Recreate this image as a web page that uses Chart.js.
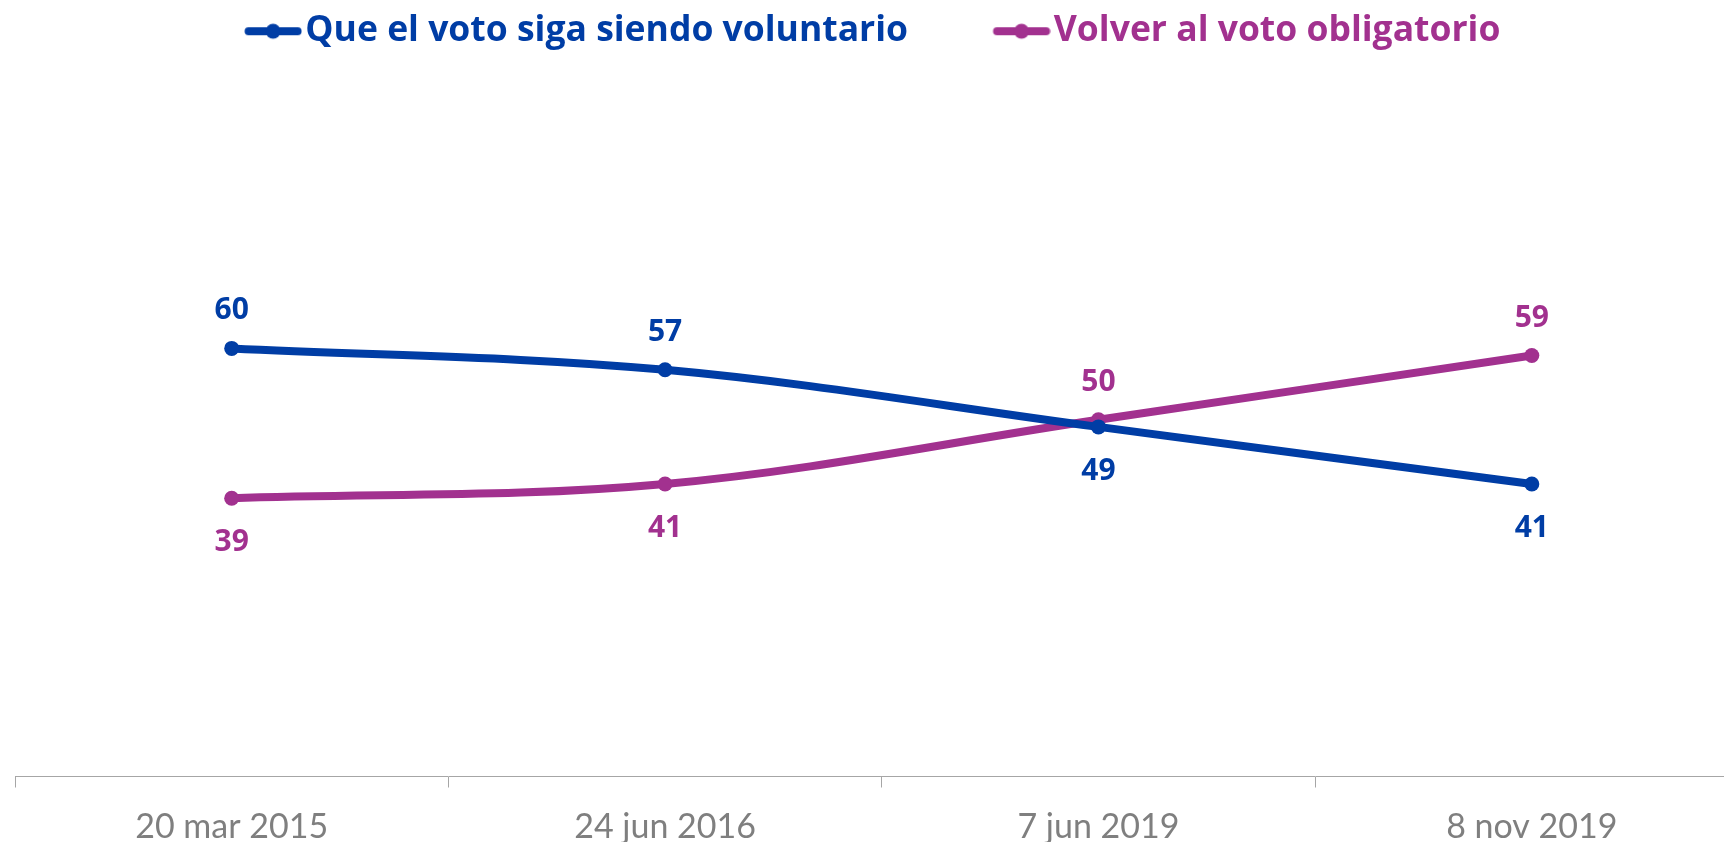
<!DOCTYPE html>
<html>
<head>
<meta charset="utf-8">
<script src="https://cdn.jsdelivr.net/npm/chart.js@4.4.1/dist/chart.umd.min.js"></script>
<style>
  html, body { margin: 0; padding: 0; background: #ffffff; overflow: hidden; }
  #wrap { position: relative; width: 1724px; height: 842px; overflow: hidden; }
  #c { position: absolute; left: -88px; top: 0; }
</style>
</head>
<body>
<div id="wrap"><canvas id="c" width="1844" height="844"></canvas></div>
<script>
// ---- data ----
const categories = ["20 mar 2015", "24 jun 2016", "7 jun 2019", "8 nov 2019"];
const seriesNames = ["Que el voto siga siendo voluntario", "Volver al voto obligatorio"];
const voluntario = [60, 57, 49, 41];
const obligatorio = [39, 41, 50, 59];

// ---- styles ----
const BLUE = "#003DA5";
const PURPLE = "#A2318F";
const LEG_FONT = "'Open Sans', Lato, sans-serif";
const FONT = "Lato, 'Open Sans', sans-serif";
const LEG_SIZE = 35.5;
const PSW = 120;

function legendMarker(color) {
  const W = PSW + LEG_SIZE - 6, H = 18;
  const c = document.createElement("canvas");
  c.width = W; c.height = H;
  const g = c.getContext("2d");
  const x0 = W - 58, x1 = W - 1;
  g.strokeStyle = color; g.lineWidth = 8; g.lineCap = "round";
  g.beginPath(); g.moveTo(x0 + 4, H / 2); g.lineTo(x1 - 4, H / 2); g.stroke();
  g.fillStyle = color;
  g.beginPath(); g.arc((x0 + x1) / 2, H / 2, 7.5, 0, Math.PI * 2); g.fill();
  return c;
}

const dataLabels = {
  id: "dataLabels",
  afterDatasetsDraw(chart) {
    const ctx = chart.ctx;
    const sets = chart.data.datasets;
    ctx.save();
    ctx.font = "bold 30px " + LEG_FONT;
    ctx.textAlign = "center";
    ctx.textBaseline = "alphabetic";
    sets.forEach((ds, di) => {
      const meta = chart.getDatasetMeta(di);
      const other = sets[1 - di].data;
      meta.data.forEach((pt, i) => {
        const above = ds.data[i] >= other[i];
        ctx.fillStyle = ds.borderColor;
        ctx.fillText(String(ds.data[i]), pt.x, above ? pt.y - 29 : pt.y + 53);
      });
    });
    ctx.restore();
  }
};

const legendSpace = {
  id: "legendSpace",
  beforeInit(chart) {
    const lg = chart.legend;
    const fit = lg.fit;
    lg.fit = function () { fit.call(this); this.height = 57.5; };
  }
};

new Chart(document.getElementById("c"), {
  type: "line",
  data: {
    labels: categories,
    datasets: [
      { label: seriesNames[0], data: voluntario, borderColor: BLUE, backgroundColor: BLUE,
        borderWidth: 8, pointRadius: 7.5, pointHoverRadius: 7.5, pointBorderWidth: 0, tension: 0.35,
        pointStyle: "circle", legendMarker: legendMarker(BLUE) },
      { label: seriesNames[1], data: obligatorio, borderColor: PURPLE, backgroundColor: PURPLE,
        borderWidth: 8, pointRadius: 7.5, pointHoverRadius: 7.5, pointBorderWidth: 0, tension: 0.35,
        pointStyle: "circle", legendMarker: legendMarker(PURPLE) }
    ]
  },
  options: {
    responsive: false,
    animation: false,
    devicePixelRatio: 1,
    layout: { padding: { left: 0, right: 0, top: 5.5, bottom: 0 } },
    plugins: {
      tooltip: { enabled: false },
      legend: {
        display: true,
        position: "top",
        labels: {
          usePointStyle: true,
          pointStyleWidth: PSW,
          padding: 8,
          font: { family: LEG_FONT, size: LEG_SIZE, weight: "bold" },
          generateLabels(chart) {
            return chart.data.datasets.map((ds, i) => ({
              text: ds.label,
              fontColor: ds.borderColor,
              fillStyle: ds.borderColor,
              strokeStyle: ds.borderColor,
              lineWidth: 0,
              pointStyle: ds.legendMarker,
              hidden: false,
              datasetIndex: i
            }));
          }
        }
      }
    },
    scales: {
      x: {
        offset: true,
        grid: { offset: true, drawOnChartArea: false, drawTicks: true, tickLength: 11, color: "#a6a6a6", lineWidth: 1 },
        border: { display: true, color: "#a6a6a6", width: 1 },
        ticks: { color: "#7f7f7f", font: { family: FONT, size: 34 }, padding: 19, maxRotation: 0, autoSkip: false },
        afterFit(s) { s.height = 67.5; }
      },
      y: {
        display: true,
        min: 0,
        max: 100,
        grid: { display: false, drawTicks: false },
        border: { display: false },
        ticks: { display: false },
        afterFit(s) { s.width = 103; }
      }
    }
  },
  plugins: [dataLabels, legendSpace]
});
</script>
</body>
</html>
